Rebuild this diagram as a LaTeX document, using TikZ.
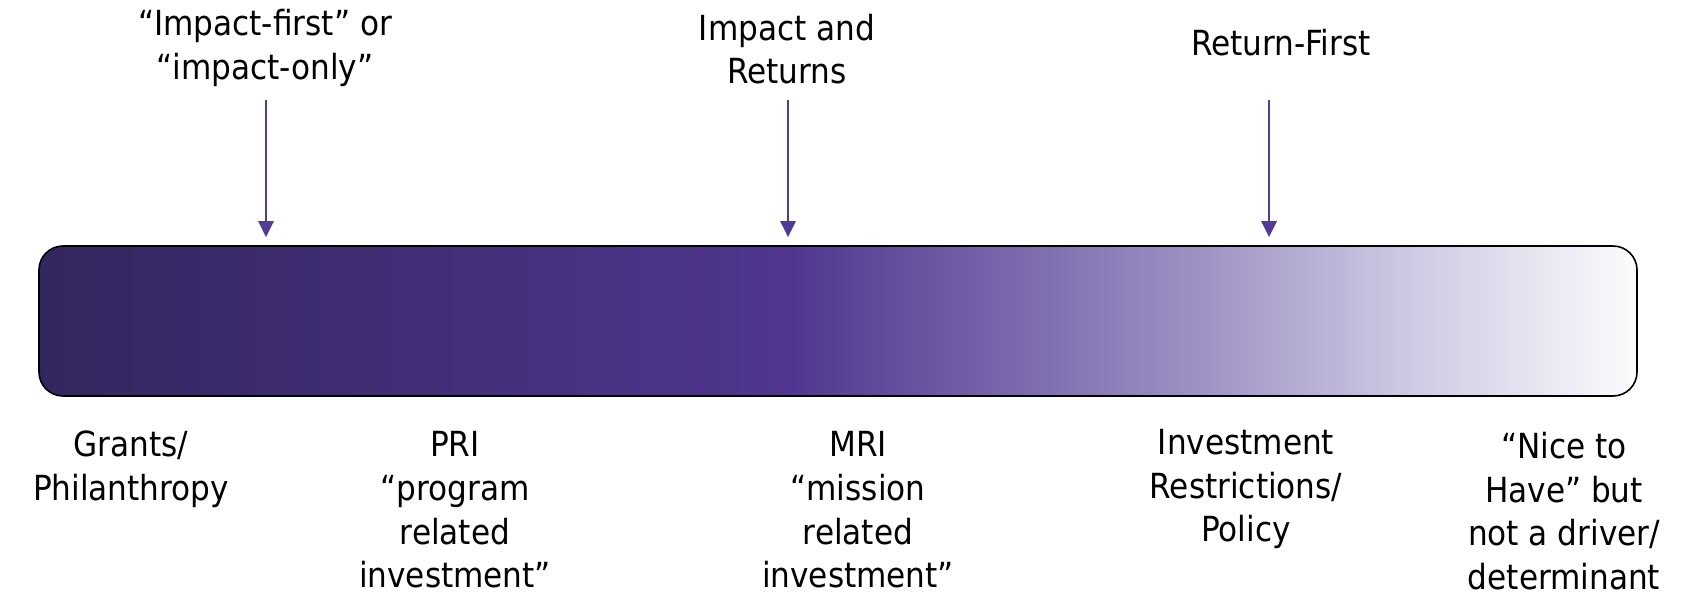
\documentclass[tikz,border=0pt]{standalone}
\usepackage{fontspec}
\setmainfont{DejaVu Sans Condensed}
\usetikzlibrary{arrows.meta}
\definecolor{c0}{RGB}{52,38,94}
\definecolor{c1}{RGB}{80,54,144}
\definecolor{c2}{RGB}{158,146,196}
\definecolor{c3}{RGB}{205,199,226}
\definecolor{c4}{RGB}{252,252,253}
\definecolor{arrowpurple}{RGB}{82,58,152}
\pgfdeclarehorizontalshading{barshade}{100bp}{color(0bp)=(c0); color(25bp)=(c0); color(48.5bp)=(c1); color(61.35bp)=(c2); color(67.6bp)=(c3); color(75bp)=(c4); color(100bp)=(c4)}
\tikzset{
  lbl/.style={align=center, inner sep=0pt, font=\fontsize{17.3pt}{21.8pt}\selectfont},
  arr/.style={draw=arrowpurple, line width=1.35pt, -{Triangle[width=7.5pt,length=8pt]}, shorten >=4pt},
  barbox/.style={draw=black, line width=0.8pt, rounded corners=12pt, shading=barshade, minimum width=799pt, minimum height=75pt, inner sep=0pt}
}
\begin{document}
\begin{tikzpicture}[x=0.5pt,y=-0.5pt]
\useasboundingbox (0,0) rectangle (1689,597);
\node[barbox] (bar) at (838,321) {};
% top labels
\node[lbl] (t1) at (265,48) {“Impact-first” or\\“impact-only”};
\node[lbl] (t2) at (787,49) {Impact and\\Returns};
\node[lbl] (t3) at (1281,43) {Return-First};
% arrow start points
\coordinate (s1) at (266,100);
\coordinate (s2) at (788,100);
\coordinate (s3) at (1269,100);
\draw[arr] (s1) -- (s1 |- bar.north);
\draw[arr] (s2) -- (s2 |- bar.north);
\draw[arr] (s3) -- (s3 |- bar.north);
% bottom labels
\node[lbl] (b1) at (131,469) {Grants/\\Philanthropy};
\node[lbl] (b2) at (455,510) {PRI\\“program\\related\\investment”};
\node[lbl] (b3) at (858,510) {MRI\\“mission\\related\\investment”};
\node[lbl] (b4) at (1246,489) {Investment\\Restrictions/\\Policy};
\node[lbl] (b5) at (1564,511) {“Nice to\\Have” but\\not a driver/\\determinant};
\end{tikzpicture}
\end{document}
